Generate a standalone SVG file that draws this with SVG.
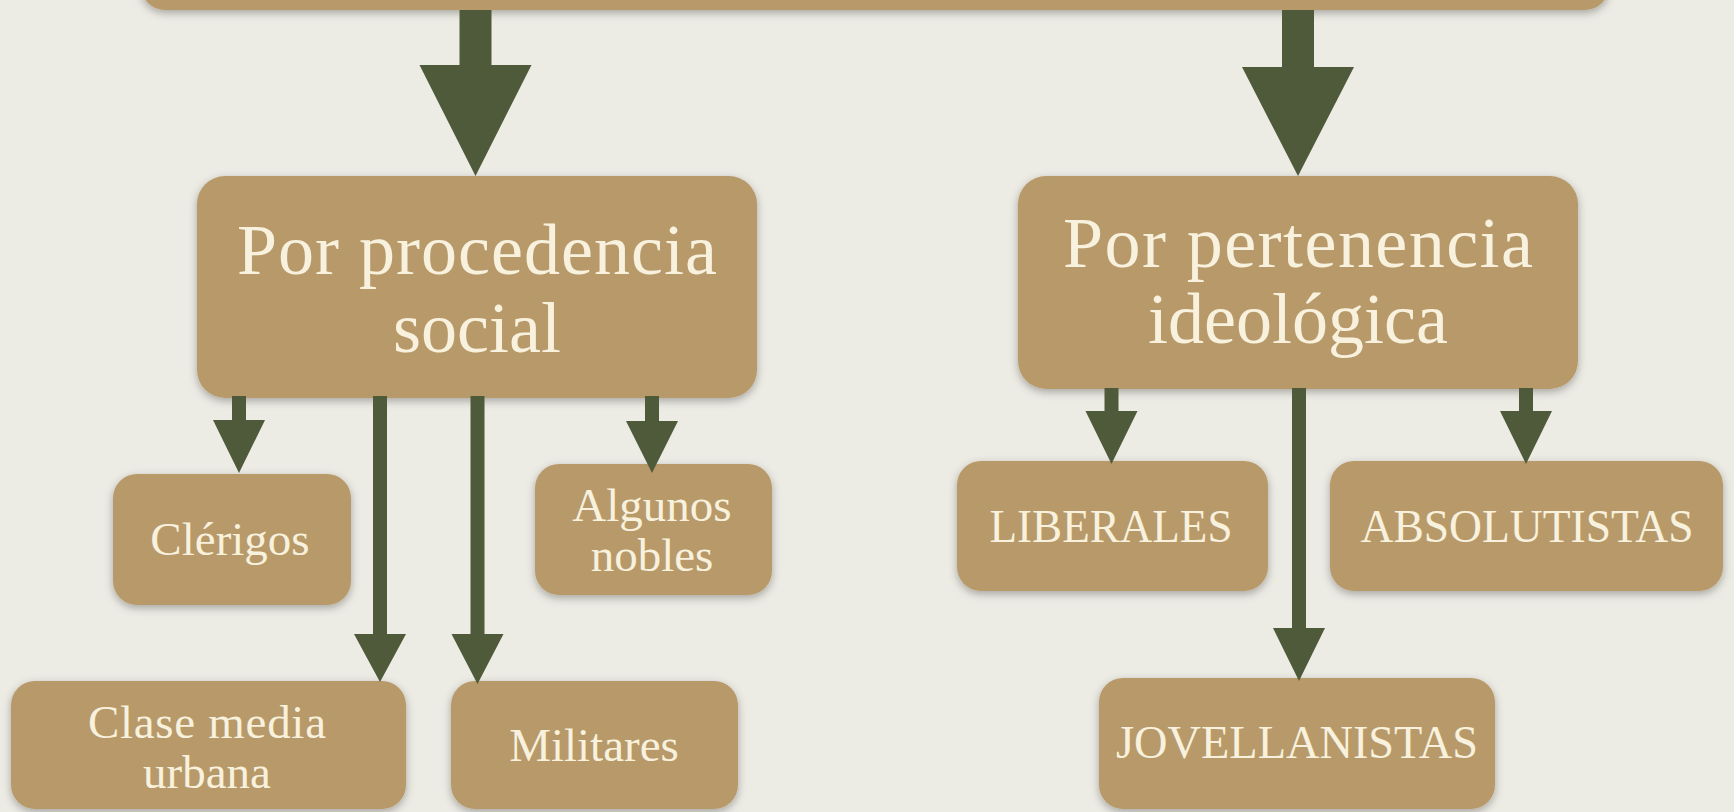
<svg xmlns="http://www.w3.org/2000/svg" width="1734" height="812" viewBox="0 0 1734 812">
<defs>
<filter id="sh" x="-10%" y="-10%" width="120%" height="130%">
<feDropShadow dx="0" dy="3" stdDeviation="4" flood-color="#000" flood-opacity="0.3"/>
</filter>
</defs>
<style>
.box{fill:#b89a6b;filter:url(#sh)}
.lbl{font-family:"Liberation Serif","Times New Roman",serif;fill:#f7f1dd;text-anchor:middle}
.big{font-size:72px}
.sm{font-size:47px}
.arr{fill:#4e5a3a}
</style>
<rect width="1734" height="812" fill="#ecebe4"/>

<g id="top">
<rect class="box" x="141" y="-60" width="1468" height="70" rx="24"/>
</g>

<g id="n-social">
<rect class="box" x="197" y="176" width="560" height="222" rx="28"/>
<text class="lbl big" x="477" y="274" textLength="480">Por procedencia</text>
<text class="lbl big" x="477" y="352">social</text>
</g>

<g id="n-ideologica">
<rect class="box" x="1018" y="176" width="560" height="213" rx="28"/>
<text class="lbl big" x="1298" y="267" textLength="470">Por pertenencia</text>
<text class="lbl big" x="1298" y="343">ideológica</text>
</g>

<g id="n-clerigos">
<rect class="box" x="113" y="474" width="238" height="131" rx="24"/>
<text class="lbl sm" x="230" y="555">Clérigos</text>
</g>

<g id="n-nobles">
<rect class="box" x="535" y="464" width="237" height="131" rx="24"/>
<text class="lbl sm" x="652" y="521">Algunos</text>
<text class="lbl sm" x="652" y="571">nobles</text>
</g>

<g id="n-clase">
<rect class="box" x="11" y="681" width="395" height="128" rx="24"/>
<text class="lbl sm" x="207" y="738" textLength="238">Clase media</text>
<text class="lbl sm" x="207" y="788">urbana</text>
</g>

<g id="n-militares">
<rect class="box" x="451" y="681" width="287" height="128" rx="24"/>
<text class="lbl sm" x="594" y="761">Militares</text>
</g>

<g id="n-liberales">
<rect class="box" x="957" y="461" width="311" height="130" rx="24"/>
<text class="lbl sm" x="1111" y="542" textLength="243" lengthAdjust="spacingAndGlyphs">LIBERALES</text>
</g>

<g id="n-absolutistas">
<rect class="box" x="1330" y="461" width="393" height="130" rx="24"/>
<text class="lbl sm" x="1527" y="542" textLength="333" lengthAdjust="spacingAndGlyphs">ABSOLUTISTAS</text>
</g>

<g id="n-jovellanistas">
<rect class="box" x="1099" y="678" width="396" height="131" rx="24"/>
<text class="lbl sm" x="1297" y="758" textLength="362" lengthAdjust="spacingAndGlyphs">JOVELLANISTAS</text>
</g>

<g id="connectors">
<polygon class="arr" points="459.5,10 491.5,10 491.5,65 531.5,65 475.5,176 419.5,65 459.5,65"/>
<polygon class="arr" points="1282,10 1314,10 1314,67 1354,67 1298,176 1242,67 1282,67"/>
<polygon class="arr" points="232,396 246,396 246,420 265,420 239,473 213,420 232,420"/>
<polygon class="arr" points="373,396 387,396 387,634 406,634 380,682 354,634 373,634"/>
<polygon class="arr" points="470.5,396 484.5,396 484.5,634 503.5,634 477.5,684 451.5,634 470.5,634"/>
<polygon class="arr" points="645,396 659,396 659,421 678,421 652,473 626,421 645,421"/>
<polygon class="arr" points="1104.5,388 1118.5,388 1118.5,411 1137.5,411 1111.5,464 1085.5,411 1104.5,411"/>
<polygon class="arr" points="1292,388 1306,388 1306,628 1325,628 1299,681 1273,628 1292,628"/>
<polygon class="arr" points="1519,388 1533,388 1533,411 1552,411 1526,464 1500,411 1519,411"/>
</g>
</svg>
